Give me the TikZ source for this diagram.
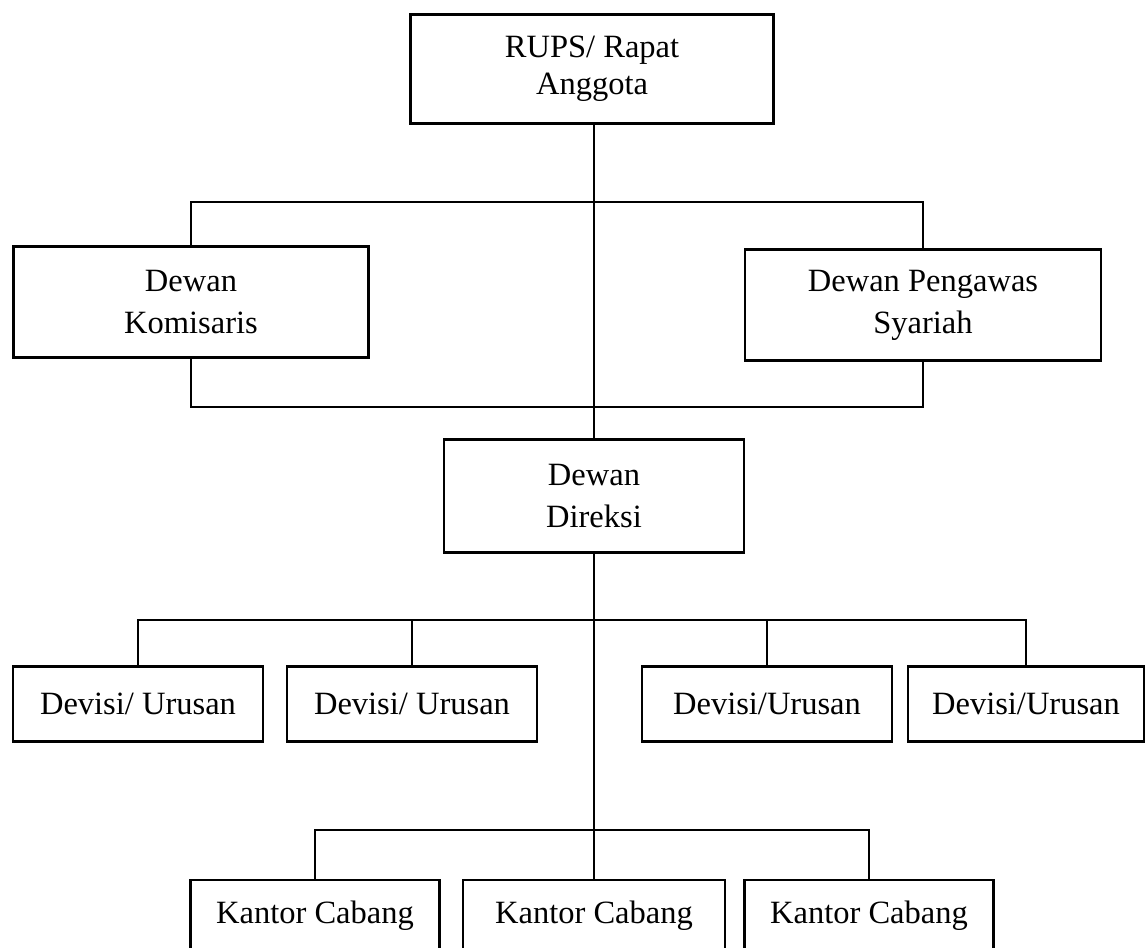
\documentclass[tikz,border=0pt]{standalone}
\usepackage{fontspec}
\setmainfont{Liberation Serif}
\begin{document}
\begin{tikzpicture}[x=0.02cm, y=-0.02cm,
  box/.style={draw, line width=1.4pt, align=center, inner sep=0pt,
    font=\fontsize{18.5}{22.5}\selectfont},
  link/.style={line width=1.4pt}]
  \useasboundingbox (0,0) rectangle (1146,947);

  % Boxes
  \node[box, minimum width=7.26cm, minimum height=2.18cm, font=\fontsize{18.5}{21}\selectfont]
        (rups) at (592,69) {RUPS/ Rapat\\Anggota};
  \node[box, minimum width=7.1cm, minimum height=2.22cm, font=\fontsize{18.5}{24}\selectfont]
        (komisaris) at (191,302) {Dewan\\Komisaris};
  \node[box, minimum width=7.12cm, minimum height=2.22cm, font=\fontsize{18.5}{24}\selectfont]
        (pengawas) at (923,305) {Dewan Pengawas\\Syariah};
  \node[box, minimum width=6cm, minimum height=2.26cm, font=\fontsize{18.5}{24}\selectfont]
        (direksi) at (594,496) {Dewan\\Direksi};

  \node[box, minimum width=5cm, minimum height=1.5cm] (devisiA) at (138,704) {Devisi/ Urusan};
  \node[box, minimum width=5cm, minimum height=1.5cm] (devisiB) at (412,704) {Devisi/ Urusan};
  \node[box, minimum width=5cm, minimum height=1.5cm] (devisiC) at (767,704) {Devisi/Urusan};
  \node[box, minimum width=4.72cm, minimum height=1.5cm] (devisiD) at (1026,704) {Devisi/Urusan};

  \node[box, minimum width=4.98cm, minimum height=1.44cm] (kantorA) at (315,916) {Kantor Cabang};
  \node[box, minimum width=5.24cm, minimum height=1.44cm] (kantorB) at (594,916) {Kantor Cabang};
  \node[box, minimum width=4.98cm, minimum height=1.44cm] (kantorC) at (869,916) {Kantor Cabang};

  % Main line
  \draw[link] (rups.south -| direksi.north) -- (direksi.north);
  \draw[link] (direksi.south) -- (kantorB.north);

  % Komisaris and Pengawas
  \draw[link] (komisaris.north) -- (komisaris.north |- 0,202) -- (pengawas.north |- 0,202) -- (pengawas.north);
  \draw[link] (komisaris.south) -- (komisaris.south |- 0,407) -- (pengawas.south |- 0,407) -- (pengawas.south);

  % Devisi
  \draw[link] (devisiA.north) -- (devisiA.north |- 0,620) -- (devisiD.north |- 0,620) -- (devisiD.north);
  \draw[link] (devisiB.north) -- (devisiB.north |- 0,620);
  \draw[link] (devisiC.north) -- (devisiC.north |- 0,620);

  % Kantor Cabang
  \draw[link] (kantorA.north) -- (kantorA.north |- 0,830) -- (kantorC.north |- 0,830) -- (kantorC.north);

\end{tikzpicture}
\end{document}
